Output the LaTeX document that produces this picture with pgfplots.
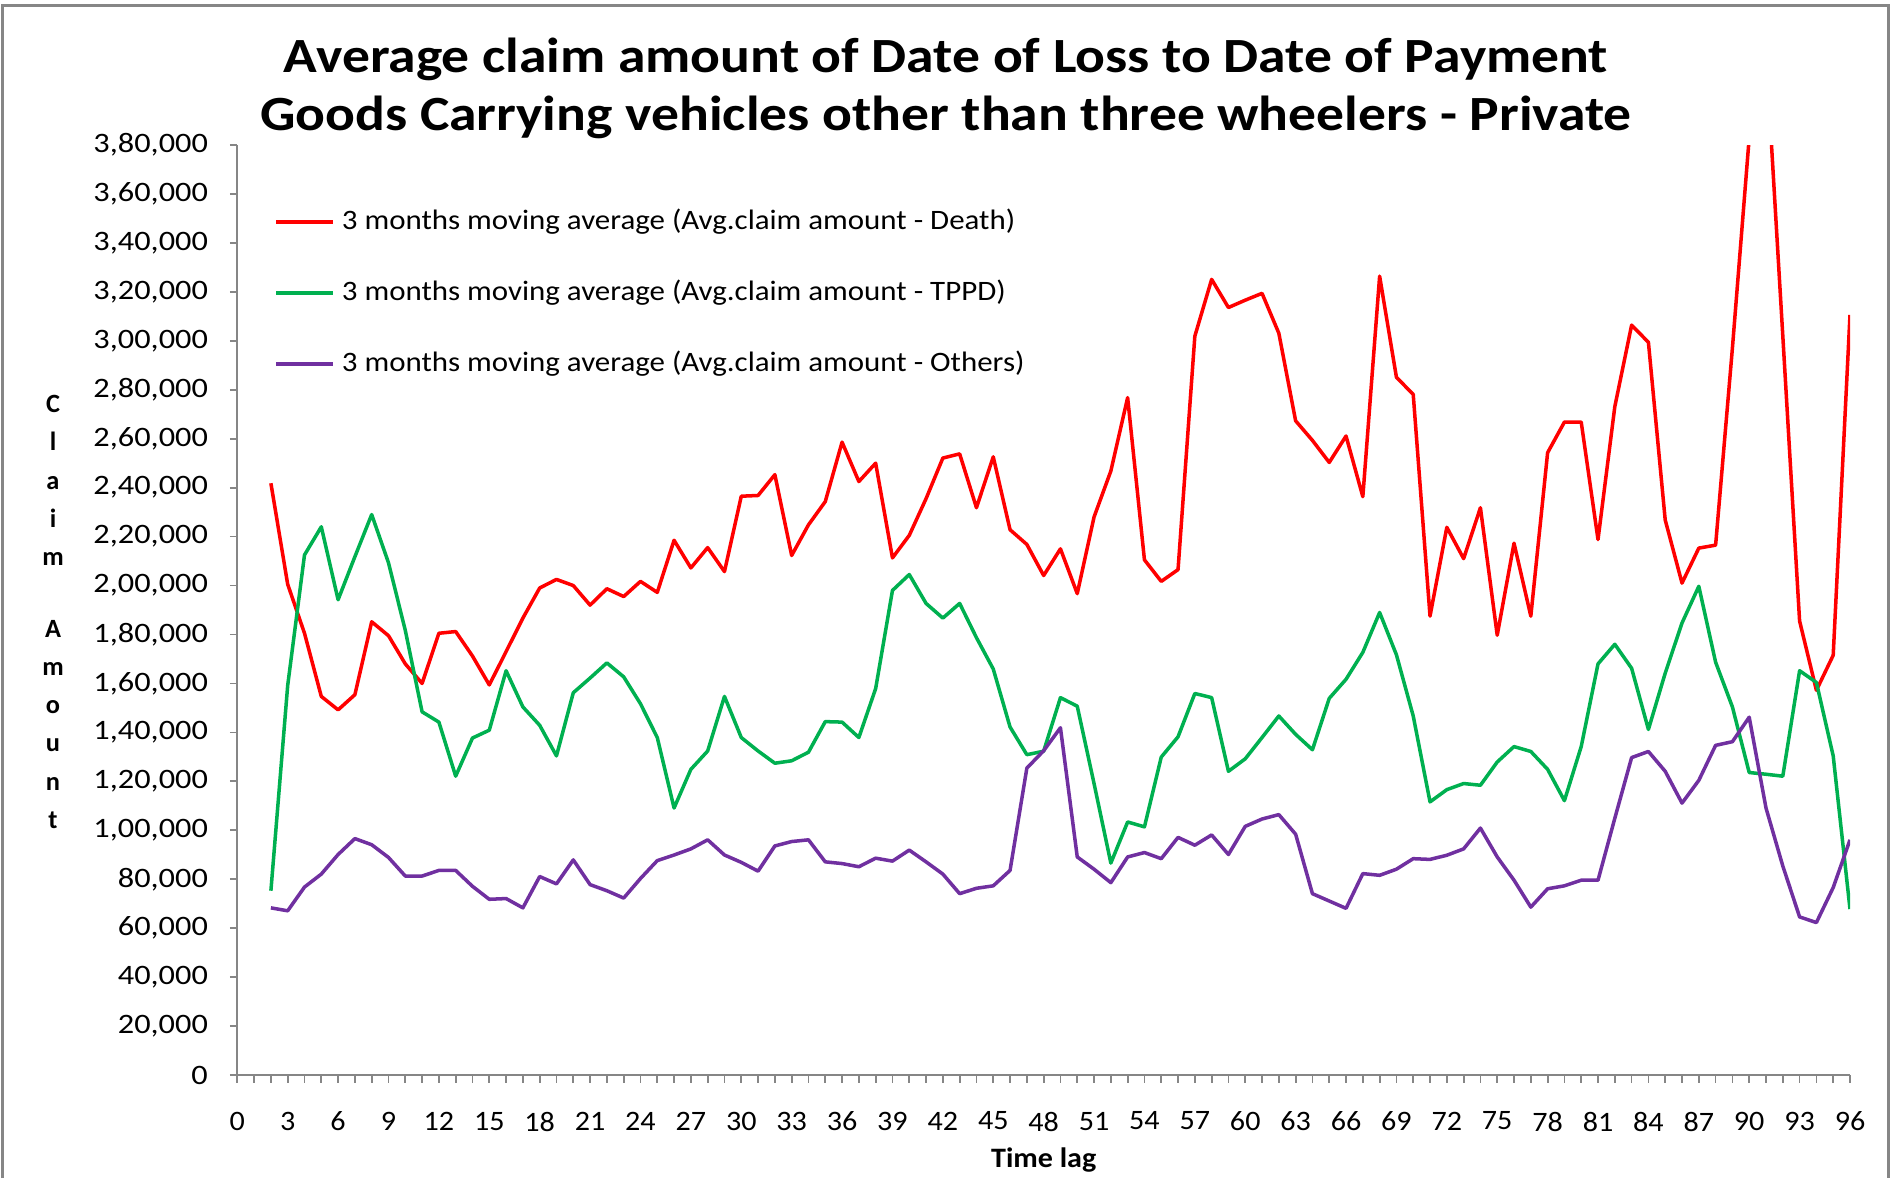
\documentclass[border=0pt]{standalone}
\usepackage{pgfplots}
\pgfplotsset{compat=1.18}
\usepackage{pgfplotstable}
\usepackage{fontspec}
\setmainfont{Carlito}
\usepackage{graphicx}
\newcommand{\WT}[1]{\scalebox{1.13}[1]{#1}}
\newcommand{\WK}[1]{\scalebox{1.15}[1]{#1}}
\newcommand{\WL}[1]{\scalebox{1.10}[1]{#1}}
\newcommand{\WX}[1]{\scalebox{1.07}[1]{#1}}
\definecolor{cRed}{RGB}{255,0,0}
\definecolor{cGreen}{RGB}{0,176,80}
\definecolor{cPurple}{RGB}{112,48,160}
\definecolor{axgray}{RGB}{134,134,134}

\pgfplotstableread{
x d t o
2 241800 75300 68300
3 200500 159200 67100
4 180500 212500 76800
5 154700 224000 82100
6 149200 194200 90100
7 155400 211800 96600
8 185200 229000 94100
9 179500 209300 88900
10 168000 181700 81300
11 160000 148400 81300
12 180500 144200 83600
13 181200 122100 83600
14 171200 137700 77100
15 159400 140900 71800
16 173000 165200 72100
17 186700 150400 68300
18 199000 142900 81100
19 202500 130400 78100
20 200000 156200 87900
21 192000 162200 77800
22 198700 168400 75300
23 195500 162700 72300
24 201700 151700 80300
25 197200 137900 87600
26 218500 109100 89900
27 207200 124900 92400
28 215500 132400 96100
29 205700 154700 89900
30 236500 137900 86900
31 236800 132400 83300
32 245300 127400 93600
33 212300 128400 95400
34 224800 131900 96100
35 234300 144400 87100
36 258600 144200 86400
37 242500 137900 85100
38 250000 157900 88600
39 211300 198000 87400
40 220500 204500 91900
41 235500 192700 87100
42 252100 186700 82100
43 253800 192700 74100
44 231800 178700 76300
45 252600 165900 77300
46 222800 142200 83600
47 216800 130900 125400
48 204100 132300 132500
49 215000 154200 141900
50 196700 150700 89100
51 228000 119100 84100
52 246800 86600 78600
53 276800 103400 89100
54 210500 101400 90900
55 201700 129900 88400
56 206500 138200 97100
57 301900 155900 93900
58 325100 154200 98100
59 313600 124100 90100
60 316600 129200 101600
61 319400 137900 104600
62 303100 146700 106400
63 267300 139200 98400
64 259300 132900 74100
65 250300 153900 71100
66 261100 161700 68100
67 236300 172700 82300
68 326400 189000 81600
69 285100 171700 84100
70 278100 146700 88400
71 187500 111600 88100
72 223800 116600 89800
73 211000 119100 92400
74 231800 118400 100900
75 179700 127900 89100
76 217300 134200 79600
77 187500 132200 68600
78 254300 124900 76100
79 266800 112100 77300
80 266800 134200 79600
81 218800 168000 79600
82 273100 176000 104900
83 306400 166200 129700
84 299400 141200 132200
85 226800 164200 124100
86 201000 184700 111100
87 215300 199700 120400
88 216500 168700 134700
89 297000 150400 136200
90 383000 123600 146200
91 418000 122900 109100
92 302000 122100 85400
93 185500 165200 64600
94 157200 160400 62300
95 171500 130400 76600
96 310600 67800 96100
}\data

\begin{document}
\begin{tikzpicture}
\useasboundingbox (0,0) rectangle (189.2mm,-117.8mm);
\draw[axgray, line width=0.35mm] (0.25mm,-117.8mm) -- (0.25mm,-0.55mm) -- (188.85mm,-0.55mm) -- (188.85mm,-117.8mm);
\node[font=\bfseries\fontsize{14}{16}\selectfont] at (94.6mm,-5.95mm) {\WT{Average claim amount of Date of Loss to Date of Payment}};
\node[font=\bfseries\fontsize{14}{16}\selectfont] at (94.6mm,-11.75mm) {\WT{Goods Carrying vehicles other than three wheelers - Private}};
\begin{axis}[
  at={(23.73mm,-107.5mm)}, anchor=south west,
  scale only axis, width=161.27mm, height=93mm,
  xmin=0, xmax=96, ymin=0, ymax=380000,
  axis x line*=bottom, axis y line*=left,
  axis line style={draw=axgray, line width=0.5pt, -},
  tick style={draw=axgray, line width=0.5pt},
  tick align=outside,
  major tick length=0.75mm, minor tick length=0.75mm,
  xtick={0,3,...,96}, minor xtick={0,1,...,96},
  ytick={0,20000,...,380000},
  yticklabels={\WK{0},\WK{20,000},\WK{40,000},\WK{60,000},\WK{80,000},\WK{1,00,000},\WK{1,20,000},\WK{1,40,000},\WK{1,60,000},\WK{1,80,000},\WK{2,00,000},\WK{2,20,000},\WK{2,40,000},\WK{2,60,000},\WK{2,80,000},\WK{3,00,000},\WK{3,20,000},\WK{3,40,000},\WK{3,60,000},\WK{3,80,000}},
  scaled y ticks=false,
  /pgf/number format/assume math mode=true,
  xticklabel={\WX{\pgfmathprintnumber{\tick}}},
  ticklabel style={font=\fontsize{8}{9}\selectfont, text=black},
  xticklabel style={yshift=-1.7mm},
  yticklabel style={xshift=-0.95mm},
  legend cell align=left,
  legend style={draw=none, fill=none, at={(axis description cs:0.016,0.947)}, anchor=north west,
    font=\fontsize{8}{9}\selectfont, row sep=3.1mm},
  legend image code/.code={\draw[#1] (0mm,0mm) -- (5.7mm,0mm);},
  line join=round,
]
\addplot[cRed, line width=1pt] table[x=x,y=d]{\data};
\addlegendentry{\WL{3 months moving average (Avg.claim amount - Death)}}
\addplot[cGreen, line width=1pt] table[x=x,y=t]{\data};
\addlegendentry{\WL{3 months moving average (Avg.claim amount - TPPD)}}
\addplot[cPurple, line width=1pt] table[x=x,y=o]{\data};
\addlegendentry{\WL{3 months moving average (Avg.claim amount - Others)}}
\end{axis}
\node[font=\bfseries\fontsize{8}{9}\selectfont] at (104.37mm,-116.0mm) {\WX{Time lag}};
\node[font=\bfseries\fontsize{7.5}{10.9}\selectfont, align=center] at (5.3mm,-61.2mm) {C\\l\\a\\i\\m\\[3.3mm]A\\m\\o\\u\\n\\t};
\end{tikzpicture}
\end{document}
